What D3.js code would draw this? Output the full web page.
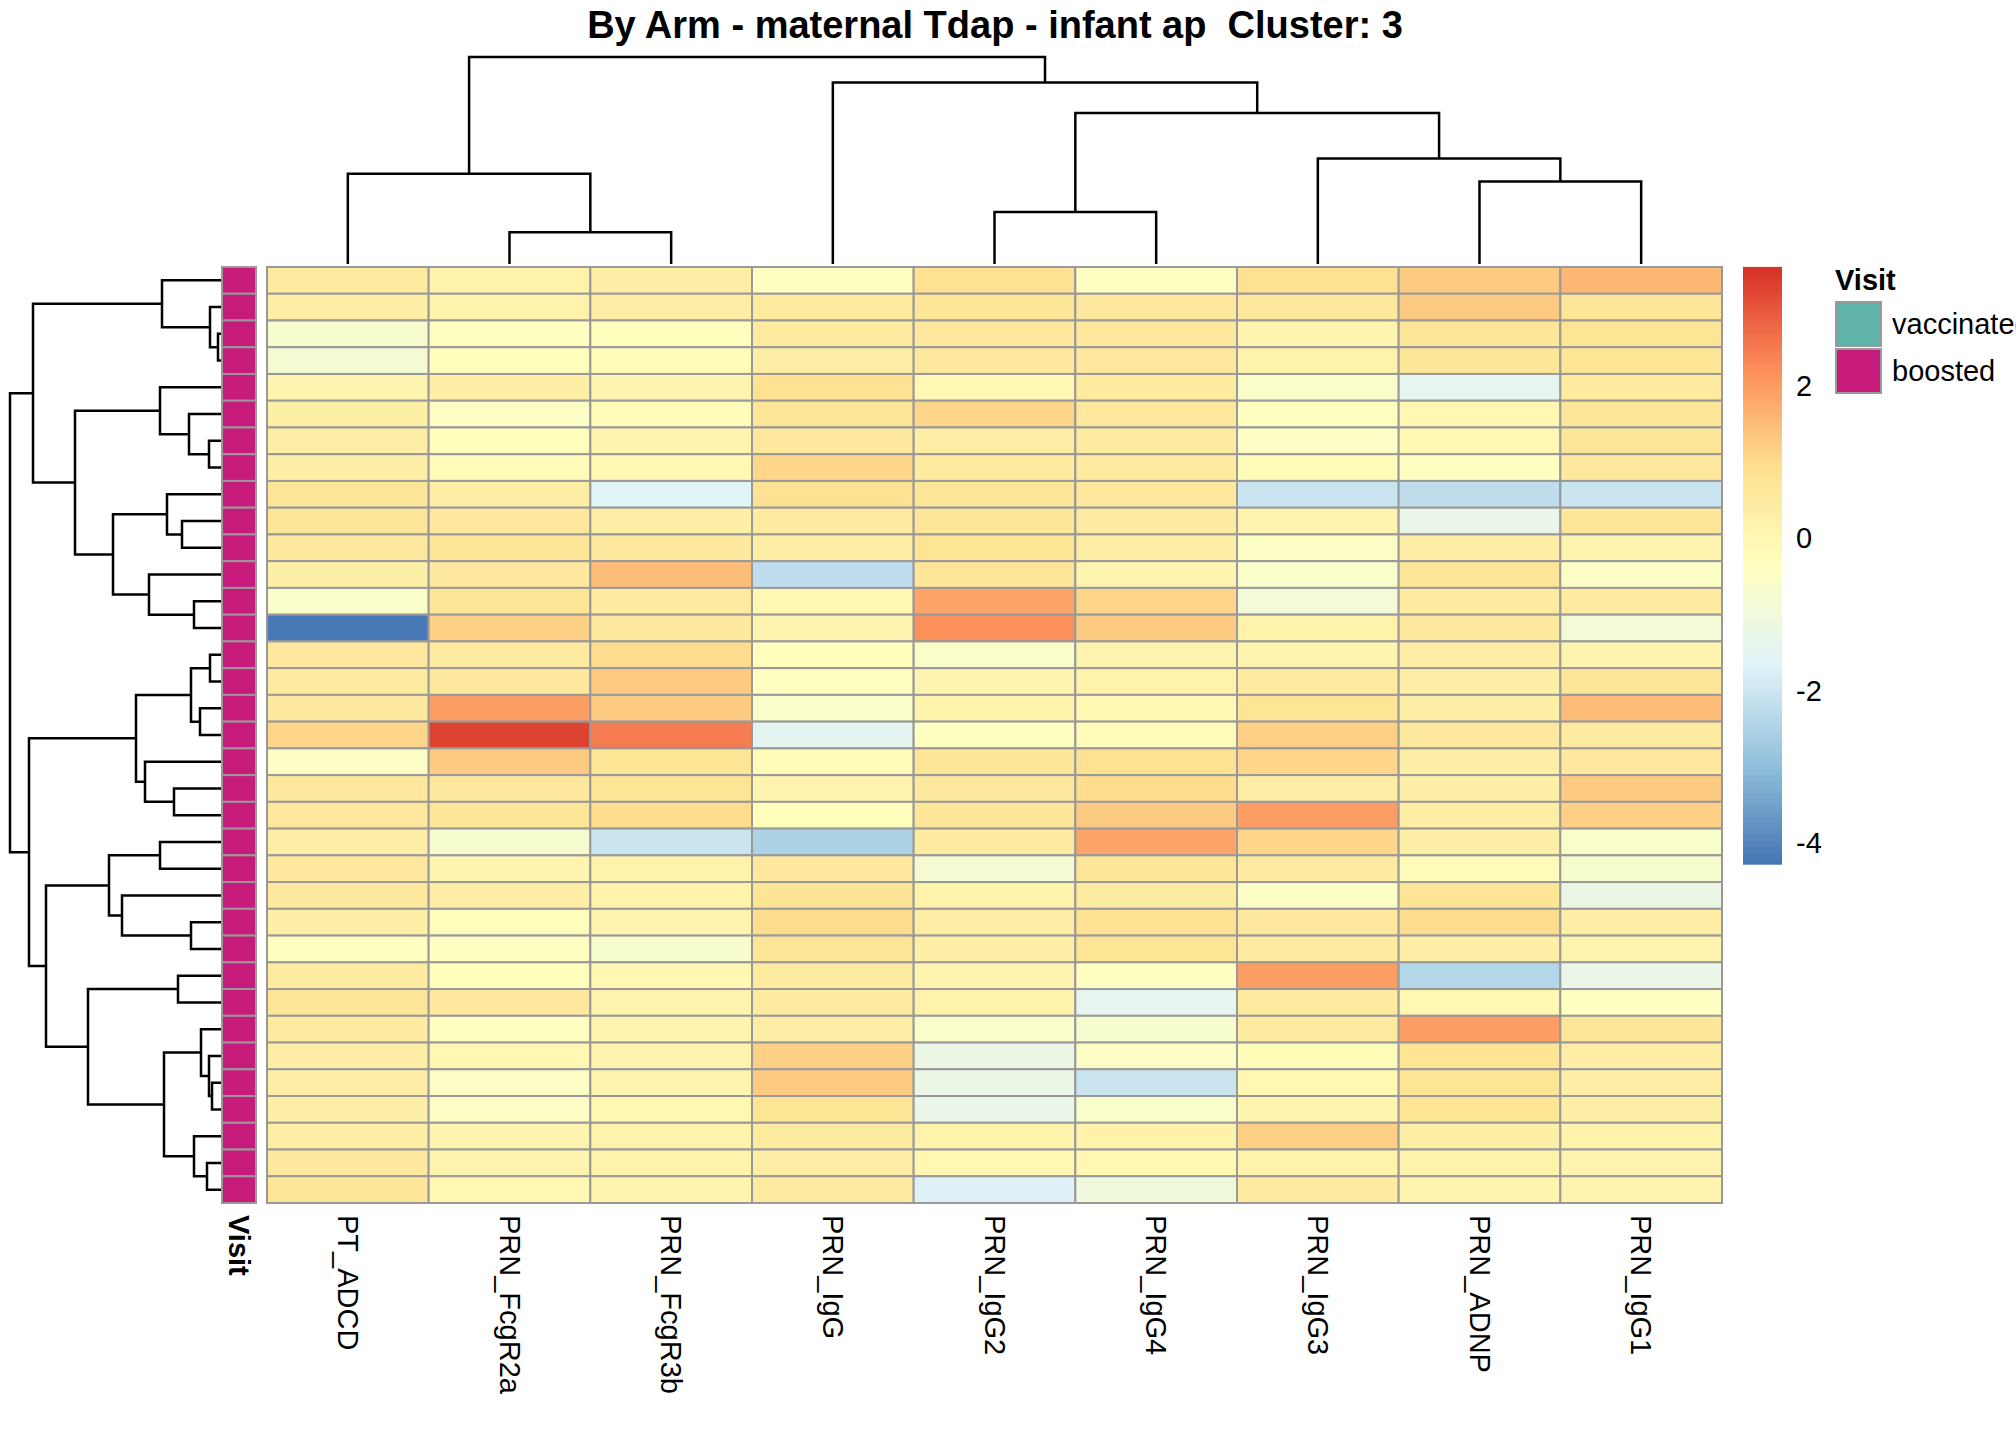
<!DOCTYPE html>
<html><head><meta charset="utf-8">
<script src="https://cdn.jsdelivr.net/npm/d3@7"></script>
<style>body{margin:0;background:#fff}text{font-family:Arial,"Liberation Sans",sans-serif;white-space:pre}</style>
</head><body><svg id="chart" width="2016" height="1440"></svg>
<script>
const columns = ["PT_ADCD","PRN_FcgR2a","PRN_FcgR3b","PRN_IgG","PRN_IgG2","PRN_IgG4","PRN_IgG3","PRN_ADNP","PRN_IgG1"];
const values = [
[0.5,0.2,0.4,-0.4,0.9,-0.4,0.9,1.3,1.6],
[0.3,0.2,0.4,0.5,0.7,0.6,0.6,1.3,0.7],
[-0.7,-0.4,-0.3,0.5,0.6,0.6,0.1,0.7,0.8],
[-0.8,-0.3,-0.2,0.4,0.6,0.6,0.2,0.7,0.8],
[0.1,0.3,0.1,0.9,0.0,0.5,-0.6,-1.4,0.5],
[0.3,-0.5,-0.2,0.7,1.1,0.6,-0.4,0.0,0.7],
[0.4,-0.3,0.1,0.6,0.4,0.5,-0.5,0.0,0.7],
[0.3,-0.2,0.0,1.1,0.5,0.5,-0.2,-0.4,0.6],
[0.7,0.4,-1.6,0.9,0.7,0.6,-2.0,-2.2,-2.0],
[0.7,0.6,0.3,0.5,0.7,0.5,0.1,-1.3,0.7],
[0.6,0.7,0.6,0.4,0.8,0.4,-0.5,0.4,0.1],
[0.3,0.6,1.5,-2.2,0.7,0.1,-0.6,0.7,-0.5],
[-0.6,0.7,0.5,0.0,1.9,1.1,-0.9,0.5,0.5],
[-4.2,1.2,0.6,0.1,2.2,1.3,0.2,0.6,-0.9],
[0.6,0.5,1.0,-0.3,-0.6,0.1,0.1,0.4,0.1],
[0.5,0.6,1.3,-0.4,0.1,0.2,0.5,0.3,0.7],
[0.6,2.0,1.3,-0.6,0.2,0.0,0.8,0.3,1.5],
[1.1,3.3,2.5,-1.5,-0.4,-0.2,1.2,0.6,0.5],
[-0.5,1.3,0.8,-0.2,0.7,0.9,1.1,0.3,0.6],
[0.6,0.6,0.8,0.1,0.6,1.0,0.4,0.3,1.3],
[0.6,0.7,1.0,-0.3,0.7,1.3,2.0,0.4,1.2],
[0.4,-0.7,-2.0,-2.5,0.5,1.9,1.1,0.3,-0.6],
[0.6,0.1,0.2,0.6,-0.8,0.7,0.5,-0.2,-0.7],
[0.6,0.4,0.2,0.8,0.2,0.5,-0.5,0.8,-1.2],
[0.3,-0.3,0.1,1.0,0.4,0.9,0.6,1.0,0.4],
[-0.4,-0.4,-0.7,0.7,0.3,0.8,0.5,0.3,0.1],
[0.5,-0.3,0.0,0.5,0.1,-0.4,2.0,-2.4,-1.3],
[0.7,0.6,0.1,0.5,0.2,-1.4,0.5,0.0,-0.4],
[0.5,-0.4,0.1,0.4,-0.6,-0.7,0.5,2.0,0.7],
[0.4,0.0,0.1,1.2,-1.2,-0.5,-0.2,0.8,0.4],
[0.4,-0.5,0.1,1.3,-1.2,-2.0,0.0,0.8,0.4],
[0.3,-0.5,0.0,0.8,-1.3,-0.6,0.1,0.8,0.3],
[0.4,0.1,0.2,0.5,0.2,0.2,1.2,0.3,0.2],
[0.6,0.1,0.2,0.4,0.0,0.0,0.2,0.2,0.1],
[0.7,0.0,0.1,0.5,-1.7,-1.0,0.5,0.1,0.1]
];
const visit = values.map(() => "boosted");
const visitLevels = ["vaccinated","boosted"];
const visitColors = ["#5FB3A9","#C71B7C"];
const legendTicks = [2,0,-2,-4];
const palette = ["#4575B4","#91BFDB","#E0F3F8","#FFFFBF","#FEE090","#FC8D59","#D73027"];
const valueRange = [-4.27,3.56];

// dendrograms: [left, right, height]; leaves are indices
const colTree = [[0,[1,2,25],71],[3,[[4,5,41],[6,[7,8,65],83],119],143],163];
const rowTree = [
  [[[0,[1,[2,3,3],11],59],[[4,[5,[6,7,12],32],61],[[8,[9,10,39],54],[11,[12,13,27],72],108],146],188],
   [[[[14,15,11],[16,17,21],30],[18,[19,20,47],76],85],
    [[[21,22,61],[23,[24,25,30],99],112],
     [[26,27,43],[[28,[29,[30,31,9],12],20],[32,[33,34,14],27],57],133],175],192],211]
  ,211];

const svg = d3.select("#chart");
const hx0 = 267, hx1 = 1722, hy0 = 267, hy1 = 1203;
const x = d3.scaleBand().domain(d3.range(columns.length)).range([hx0,hx1]);
const y = d3.scaleBand().domain(d3.range(values.length)).range([hy0,hy1]);
const color = d3.scaleLinear()
  .domain(d3.range(palette.length).map(i => valueRange[0] + i*(valueRange[1]-valueRange[0])/(palette.length-1)))
  .range(palette);

svg.append("text").attr("x",995).attr("y",38).attr("text-anchor","middle")
  .attr("font-size",38).attr("font-weight","bold")
  .text("By Arm - maternal Tdap - infant ap  Cluster: 3");

// cells
values.forEach((row,i) => row.forEach((v,j) => {
  svg.append("rect").attr("x",x(j)).attr("y",y(i)).attr("width",x.bandwidth()).attr("height",y.bandwidth())
    .attr("fill",color(v)).attr("stroke","#999").attr("stroke-width",2);
}));
// annotation
const ax = 222, aw = 34;
visit.forEach((v,i) => svg.append("rect").attr("x",ax).attr("y",y(i)).attr("width",aw).attr("height",y.bandwidth())
  .attr("fill",visitColors[visitLevels.indexOf(v)]).attr("stroke","#999").attr("stroke-width",2));

// dendrogram drawing
function drawTree(tree, leafPos, hScale, horizontal) {
  const g = svg.append("g").attr("fill","none").attr("stroke","#000").attr("stroke-width",2.5);
  function walk(n) {
    if (typeof n === "number") return {p: leafPos(n), h: 0};
    const a = walk(n[0]), b = walk(n[1]), h = n[2];
    const H = hScale(h), A = hScale(a.h), B = hScale(b.h);
    const d = horizontal
      ? `M${a.p},${A}V${H}H${b.p}V${B}`
      : `M${A},${a.p}H${H}V${b.p}H${B}`;
    g.append("path").attr("d",d);
    return {p:(a.p+b.p)/2, h};
  }
  walk(tree);
}
drawTree(colTree, i => x(i)+x.bandwidth()/2, d3.scaleLinear().domain([0,163]).range([264,57]), true);
drawTree(rowTree, i => y(i)+y.bandwidth()/2, d3.scaleLinear().domain([0,211]).range([221,10]), false);

// column labels
columns.forEach((c,j) => svg.append("text")
  .attr("transform",`translate(${x(j)+x.bandwidth()/2-10},1215) rotate(90)`)
  .attr("font-size",29).text(c));
svg.append("text").attr("transform",`translate(${ax+aw/2-10},1215) rotate(90)`)
  .attr("font-size",29).attr("font-weight","bold").text("Visit");

// colour bar
const ly = d3.scaleLinear().domain(valueRange).range([864,267]);
const steps = d3.range(100).map(i => valueRange[0] + (i+0.5)*(valueRange[1]-valueRange[0])/100);
steps.forEach(s => svg.append("rect").attr("x",1743).attr("width",39)
  .attr("y",ly(s)-3.1).attr("height",6.8).attr("fill",color(s)));
legendTicks.forEach(t => svg.append("text").attr("x",1796).attr("y",ly(t)+10)
  .attr("font-size",29).text(t));

// visit legend
svg.append("text").attr("x",1835).attr("y",290).attr("font-size",29).attr("font-weight","bold").text("Visit");
visitLevels.forEach((l,i) => {
  svg.append("rect").attr("x",1836).attr("y",302+i*47).attr("width",45).attr("height",44)
    .attr("fill",visitColors[i]).attr("stroke","#999").attr("stroke-width",2);
  svg.append("text").attr("x",1892).attr("y",334+i*47).attr("font-size",29).text(l);
});
</script></body></html>
